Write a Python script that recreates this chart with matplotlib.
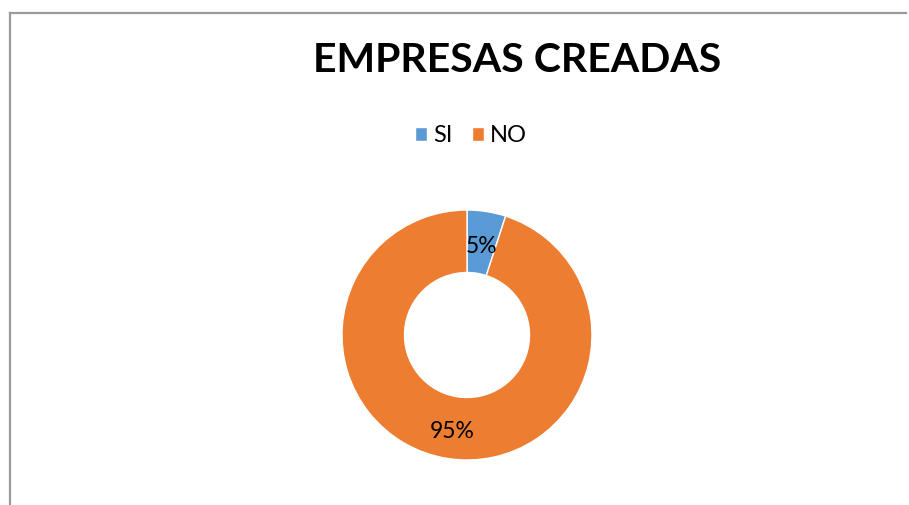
import matplotlib.pyplot as plt
from matplotlib.lines import Line2D

# Datos del gráfico
categorias = ["SI", "NO"]
valores = [5, 95]
colores = ["#5B9BD5", "#ED7D31"]
titulo = "EMPRESAS CREADAS"

plt.rcParams['font.family'] = ['Lato', 'DejaVu Sans']

W, H = 909, 505
fig = plt.figure(figsize=(W / 100, H / 100), dpi=100)

# marco (solo borde superior e izquierdo visibles)
fig.add_artist(Line2D([10 / W, 10 / W], [0, 1 - 13 / H], color="#9a9a9a", lw=1.6))
fig.add_artist(Line2D([10 / W, 906 / W], [1 - 13 / H, 1 - 13 / H], color="#9a9a9a", lw=1.6))

# dona centrada en (467, 335) px, radio 125 px
cx, cy, r = 467, 335, 125
ax = fig.add_axes([(cx - r) / W, (H - cy - r) / H, 2 * r / W, 2 * r / H])
wedges, textos, autotextos = ax.pie(
    valores, colors=colores, startangle=90, counterclock=False,
    autopct="%1.0f%%", pctdistance=0.75,
    wedgeprops=dict(width=0.5, edgecolor="white", linewidth=1),
    textprops=dict(fontsize=16.5, color="#000000"))
# bajar un poco las etiquetas como en el original
for t in autotextos:
    x, y = t.get_position()
    t.set_position((x, y - 0.03))
ax.set_xlim(-1, 1)
ax.set_ylim(-1, 1)
ax.set_aspect("equal")

fig.text(517 / W, 1 - 61 / H, titulo, ha="center", va="center",
         fontsize=29.5, fontweight="bold")

fig.legend(wedges, categorias, loc="center", bbox_to_anchor=(471 / W, 1 - 136 / H),
           ncol=2, frameon=False, fontsize=17, handlelength=0.5, handleheight=0.5,
           handletextpad=0.25, columnspacing=0.85)

fig.savefig("out.png", dpi=100)
